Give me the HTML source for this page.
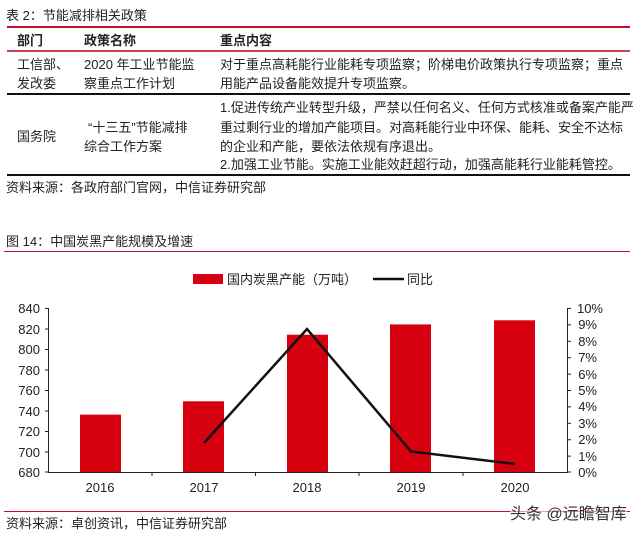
<!DOCTYPE html>
<html><head><meta charset="utf-8"><style>
body{margin:0;width:640px;height:538px;background:#fff;position:relative;overflow:hidden;font-family:"Liberation Sans","Noto Sans CJK SC",sans-serif;color:#222;}
.t{position:absolute;font-size:13px;white-space:nowrap;line-height:15px;}
.l{position:absolute;height:2px;}
</style></head><body>
<div class="t" style="left:6px;top:8px;">表 2：节能减排相关政策</div>
<div class="l" style="left:7px;top:26px;width:623px;background:#c0102a;"></div>
<div class="t" style="left:17px;top:33px;font-weight:bold;">部门</div>
<div class="t" style="left:84px;top:33px;font-weight:bold;">政策名称</div>
<div class="t" style="left:220px;top:33px;font-weight:bold;">重点内容</div>
<div class="l" style="left:7px;top:50px;width:623px;background:#d04050;"></div>
<div class="t" style="left:17px;top:57px;">工信部、</div>
<div class="t" style="left:17px;top:76px;">发改委</div>
<div class="t" style="left:84px;top:57px;">2020 年工业节能监</div>
<div class="t" style="left:84px;top:76px;">察重点工作计划</div>
<div class="t" style="left:220px;top:57px;">对于重点高耗能行业能耗专项监察；阶梯电价政策执行专项监察；重点</div>
<div class="t" style="left:220px;top:76px;">用能产品设备能效提升专项监察。</div>
<div class="l" style="left:7px;top:93px;width:623px;background:#111;"></div>
<div class="t" style="left:17px;top:129px;">国务院</div>
<div class="t" style="left:88px;top:120px;">“十三五”节能减排</div>
<div class="t" style="left:84px;top:139px;">综合工作方案</div>
<div class="t" style="left:220px;top:100px;">1.促进传统产业转型升级，严禁以任何名义、任何方式核准或备案产能严</div>
<div class="t" style="left:220px;top:120px;">重过剩行业的增加产能项目。对高耗能行业中环保、能耗、安全不达标</div>
<div class="t" style="left:220px;top:139px;">的企业和产能，要依法依规有序退出。</div>
<div class="t" style="left:220px;top:157px;">2.加强工业节能。实施工业能效赶超行动，加强高能耗行业能耗管控。</div>
<div class="l" style="left:7px;top:174px;width:623px;background:#111;"></div>
<div class="t" style="left:6px;top:180px;">资料来源：各政府部门官网，中信证券研究部</div>

<div class="t" style="left:6px;top:234px;">图 14：中国炭黑产能规模及增速</div>
<div class="l" style="left:4px;top:251px;width:626px;height:1px;background:#c0102a;"></div>

<svg style="position:absolute;left:0;top:0" width="640" height="538" font-family="Liberation Sans, Noto Sans CJK SC, sans-serif" font-size="13" fill="#222">
<rect x="193" y="274" width="30" height="10" fill="#d7000f"/>
<text x="227" y="284">国内炭黑产能（万吨）</text>
<line x1="373" y1="279" x2="404" y2="279" stroke="#111" stroke-width="2.5"/>
<text x="407" y="284">同比</text>
<g fill="#d7000f">
<rect x="80" y="414.6" width="41" height="57.4"/>
<rect x="183" y="401.3" width="41" height="70.7"/>
<rect x="287" y="334.7" width="41" height="137.3"/>
<rect x="390" y="324.4" width="41" height="147.6"/>
<rect x="494" y="320.3" width="41" height="151.7"/>
</g>
<g stroke="#222" stroke-width="1">
<line x1="48.5" y1="308" x2="48.5" y2="472"/>
<line x1="567.5" y1="308" x2="567.5" y2="472"/>
<line x1="48" y1="472.5" x2="568" y2="472.5"/>
</g>
<g stroke="#222">
<path d="M45 308.5h4M45 329h4M45 349.5h4M45 370h4M45 390.5h4M45 411h4M45 431.5h4M45 452h4M45 472h4"/>
<path d="M567 308.5h4M567 324.9h4M567 341.3h4M567 357.7h4M567 374.1h4M567 390.5h4M567 406.9h4M567 423.3h4M567 439.7h4M567 456.1h4M567 472h4"/>
<path d="M152 472v4M255.5 472v4M359 472v4M463 472v4"/>
</g>
<g text-anchor="end">
<text x="40" y="313">840</text><text x="40" y="334">820</text><text x="40" y="354">800</text><text x="40" y="375">780</text><text x="40" y="395">760</text><text x="40" y="416">740</text><text x="40" y="436">720</text><text x="40" y="457">700</text><text x="40" y="477">680</text>
</g>
<g text-anchor="end">
<text x="603" y="313">10%</text><text x="597" y="329">9%</text><text x="597" y="346">8%</text><text x="597" y="362">7%</text><text x="597" y="379">6%</text><text x="597" y="395">5%</text><text x="597" y="411">4%</text><text x="597" y="428">3%</text><text x="597" y="444">2%</text><text x="597" y="461">1%</text><text x="597" y="477">0%</text>
</g>
<g text-anchor="middle">
<text x="100" y="492">2016</text><text x="204" y="492">2017</text><text x="307" y="492">2018</text><text x="411" y="492">2019</text><text x="515" y="492">2020</text>
</g>
<polyline points="204,443 307,329 411,451.5 515,464" fill="none" stroke="#111" stroke-width="2.5"/>
</svg>
<div class="l" style="left:4px;top:511px;width:626px;height:1px;background:#c0102a;"></div>
<div class="t" style="left:6px;top:516px;">资料来源：卓创资讯，中信证券研究部</div>
<div class="t" style="left:510px;top:505px;font-size:16px;line-height:20px;color:#333;background:rgba(255,255,255,0.6);">头条 @远瞻智库</div>
</body></html>
